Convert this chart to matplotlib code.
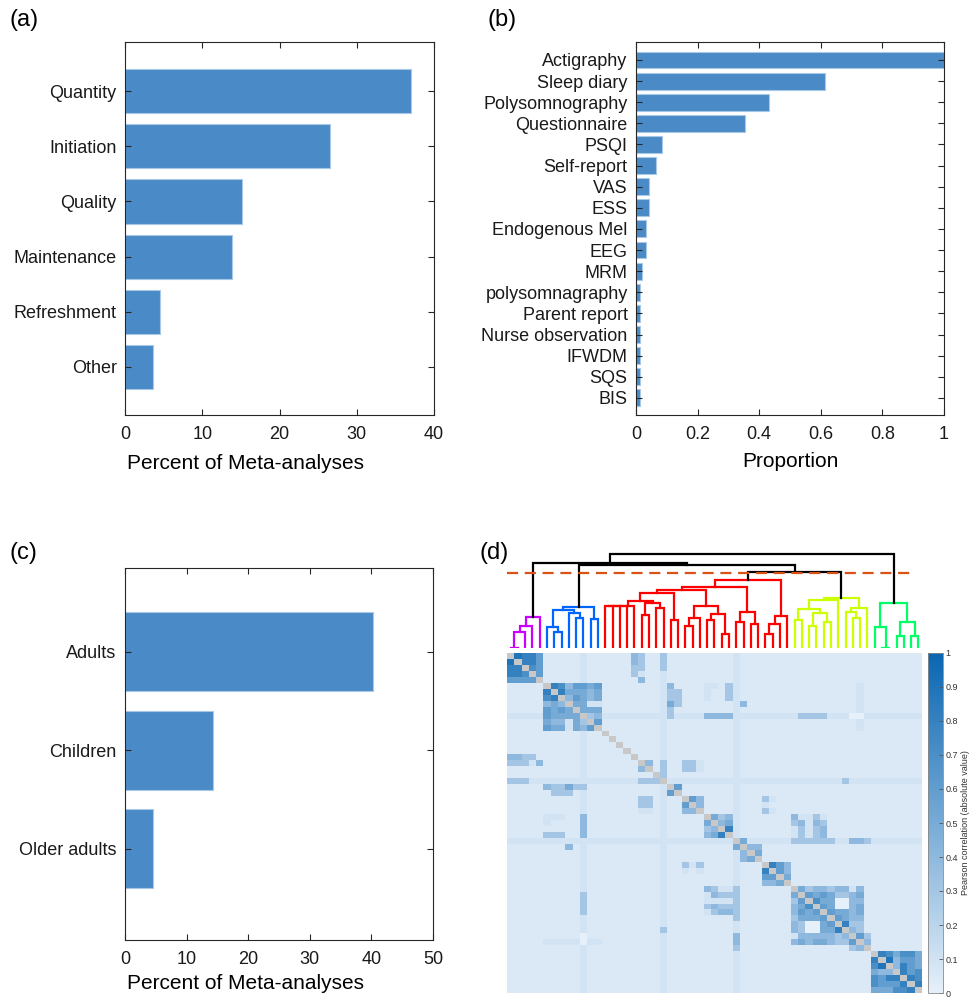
import numpy as np
import matplotlib
matplotlib.use('Agg')
import matplotlib.pyplot as plt
from matplotlib.colors import LinearSegmentedColormap

plt.rcParams['font.family'] = ['Liberation Sans', 'DejaVu Sans']

# (a) sleep outcome measured
outcome_labels = ['Quantity', 'Initiation', 'Quality', 'Maintenance', 'Refreshment', 'Other']
outcome_pct = [37.0, 26.6, 15.2, 13.8, 4.5, 3.6]

# (b) measurement method
method_labels = ['Actigraphy', 'Sleep diary', 'Polysomnography', 'Questionnaire', 'PSQI',
                 'Self-report', 'VAS', 'ESS', 'Endogenous Mel', 'EEG', 'MRM',
                 'polysomnagraphy', 'Parent report', 'Nurse observation', 'IFWDM', 'SQS', 'BIS']
method_prop = [1.0, 0.613, 0.431, 0.355, 0.086, 0.064, 0.043, 0.043, 0.032, 0.032, 0.021,
               0.012, 0.012, 0.012, 0.012, 0.012, 0.012]

# (c) population
pop_labels = ['Adults', 'Children', 'Older adults']
pop_pct = [40.2, 14.3, 4.5]

# (d) |Pearson r| between the 57 meta-analyses, in dendrogram order.
# Each digit indexes level_values, x marks the diagonal; spaces only separate leaf groups.
level_values = [0.0, 0.05, 0.09, 0.3, 0.4, 0.5, 0.6, 0.7, 0.8, 0.9]
corr_rows = [
    "x9886 11111211 11114 3113 11 111 1111 2111 1111 111111 11111 1111111",
    "9x886 11111211 11114 3113 11 111 1111 2111 1111 111111 11111 1111111",
    "88x76 11111211 11113 3113 11 111 1111 2111 1111 111111 11111 1111111",
    "887x6 11111211 11113 2112 11 111 1111 2111 1111 111111 11111 1111111",
    "6666x 11111211 11111 4112 11 111 1111 2111 1111 111111 11111 1111111",
    "11111 x8746656 11111 1112 41 111 2213 2111 1111 111111 11121 1111111",
    "11111 8x855545 11111 1112 33 111 2113 2111 1111 111111 11121 1111111",
    "11111 78x46545 11111 1112 33 111 2113 2111 1111 111111 11121 1111111",
    "11111 454x5522 11111 1112 53 111 1111 2411 1111 111111 11121 1111111",
    "11111 6565x555 11111 1112 31 111 1111 2111 1111 111111 11121 1111111",
    "22222 65555x34 22222 2222 32 222 4444 2222 2222 233332 22002 2222222",
    "11111 544253x6 11111 1112 11 111 1111 2111 1111 111111 11121 1111111",
    "11111 6552546x 11111 1112 11 111 1111 2111 1111 111111 11121 1111111",
    "11111 11111211 x1111 1112 11 111 1111 2111 1111 111111 11111 1111111",
    "11111 11111211 1x111 1112 11 111 1111 2111 1111 111111 11111 1111111",
    "11111 11111211 11x11 1112 11 111 1111 2111 1111 111111 11111 1111111",
    "11111 11111211 111x1 1112 11 111 1111 2111 1111 111111 11111 1111111",
    "44331 11111211 1111x 1112 11 111 1111 2111 1111 111111 11111 1111111",
    "33324 11111211 11111 x413 11 332 1111 2111 1111 111111 11111 1111111",
    "11111 11111211 11111 4x13 11 332 1111 2111 1111 111111 11111 1111111",
    "11111 11111211 11111 11x3 11 111 1111 2111 1111 111111 11111 1111111",
    "33322 22222222 22222 333x 22 222 2222 2222 2222 222222 23222 2222222",
    "11111 43353311 11111 1112 x6 111 1111 2111 1111 111111 11111 1111111",
    "11111 13331211 11111 1112 6x 111 1111 2111 1111 111111 11111 1111111",
    "11111 11111211 11111 3312 11 x64 1111 2111 3211 111111 11111 1111111",
    "11111 11111211 11111 3312 11 6x4 1111 2111 2111 111111 11111 1111111",
    "11111 11111211 11111 2212 11 44x 1111 2111 3211 111111 11111 1111111",
    "11111 22211411 11111 1112 11 111 x534 2111 1111 422321 11111 1111111",
    "11111 21111411 11111 1112 11 111 5x45 2111 1111 342431 11111 1111111",
    "11111 11111411 11111 1112 11 111 34x8 2111 1111 232341 11111 1111111",
    "11111 33311411 11111 1112 11 111 458x 2111 1111 232341 11111 1111111",
    "22222 22222222 22222 2222 22 222 2222 x522 2222 333333 22443 2222222",
    "11111 11141211 11111 1112 11 111 1111 5x44 1111 111111 11111 1111111",
    "11111 11111211 11111 1112 11 111 1111 24x5 1111 111111 11111 1111111",
    "11111 11111211 11111 1112 11 111 1111 245x 1111 111111 11111 1111111",
    "11111 11111211 11111 1112 11 323 1111 2111 x864 111111 11111 1111111",
    "11111 11111211 11111 1112 11 212 1111 2111 8x64 111111 11111 1111111",
    "11111 11111211 11111 1112 11 111 1111 2111 66x5 111111 11111 1111111",
    "11111 11111211 11111 1112 11 111 1111 2111 445x 111111 11111 1111111",
    "11111 11111211 11111 1112 11 111 4322 3111 1111 x53443 44241 1111111",
    "11111 11111311 11111 1112 11 111 2433 3111 1111 5x6565 33451 1111111",
    "11111 11111311 11111 1112 11 111 2222 3111 1111 36x755 00441 1111111",
    "11111 11111311 11111 1112 11 111 3433 3111 1111 457x65 00451 1111111",
    "11111 11111311 11111 1112 11 111 2344 3111 1111 4656x6 55451 1111111",
    "11111 11111211 11111 1112 11 111 1111 3111 1111 35556x 65441 1111111",
    "11111 11111211 11111 1112 11 111 1111 2111 1111 430056 x8331 1111111",
    "11111 11111211 11111 1113 11 111 1111 2111 1111 430055 8x431 1111111",
    "11111 11111011 11111 1112 11 111 1111 4111 1111 244444 34x63 1111111",
    "11111 22222022 11111 1112 11 111 1111 4111 1111 454554 336x4 1111111",
    "11111 11111211 11111 1112 11 111 1111 3111 1111 111111 1134x 1111111",
    "11111 11111211 11111 1112 11 111 1111 2111 1111 111111 11111 x875775",
    "11111 11111211 11111 1112 11 111 1111 2111 1111 111111 11111 8x94665",
    "11111 11111211 11111 1112 11 111 1111 2111 1111 111111 11111 79x4865",
    "11111 11111211 11111 1112 11 111 1111 2111 1111 111111 11111 544x867",
    "11111 11111211 11111 1112 11 111 1111 2111 1111 111111 11111 7688x87",
    "11111 11111211 11111 1112 11 111 1111 2111 1111 111111 11111 76668x8",
    "11111 11111211 11111 1112 11 111 1111 2111 1111 111111 11111 555778x",
]

# dendrogram: (left, right, linkage height), leaves numbered in display order
purple = ((((1, 2, 0), 3, 16), 4, 22), 5, 31)
blue = (((6, (7, 8, 16), 21), (9, (10, 11, 30), 35), 38), (12, 13, 29), 41)
red = (((((((((14, 15, 42), 16, 42), 17, 42), 18, 42),
            ((19, 20, 33), (21, 22, 40), 45), 47), (23, 24, 28), 55),
          (((25, 26, 22), 27, 30), ((28, 29, 28), (30, 31, 14), 34), 42), 58),
         ((32, 33, 26), (34, 35, 24), 36), 61),
       (((36, 37, 14), 38, 24), 39, 32), 68)
yellow = (((((40, 41, 28), ((42, 43, 22), (44, 45, 26), 35), 39), 46, 48),
           ((47, (48, 49, 30), 36), 50, 40), 50))
green = ((51, (52, 53, 0), 21), ((54, 55, 12), (56, 57, 12), 26), 45)
tree = ((purple, (blue, (red, yellow, 76), 83), 85), green, 94)
cutoff = 75

cluster_color = {id(purple): '#cc00ff', id(blue): '#0066ff', id(red): '#ff0000',
                 id(yellow): '#ccff00', id(green): '#00ff66'}

W, H = 970, 997
fig = plt.figure(figsize=(W / 100, H / 100), dpi=100)


def box(left, top, right, bottom):
    return [left / W, 1 - bottom / H, (right - left) / W, (bottom - top) / H]


AX_COL = '#262626'
BAR = '#4a8ac6'
EDGE = '#a8c8e8'


def bar_panel(rect, labels, values, xlim, xticks, xticklabels, ylim):
    ax = fig.add_axes(rect)
    pos = np.arange(len(values), 0, -1)
    ax.barh(pos, values, height=0.8, color=BAR, edgecolor=EDGE, linewidth=0.8)
    ax.set_yticks(pos, labels, fontsize=13)
    ax.set_xticks(xticks, xticklabels, fontsize=13)
    ax.set_xlim(*xlim)
    ax.set_ylim(*ylim)
    ax.tick_params(direction='in', length=4, width=0.8, colors=AX_COL,
                   top=True, right=True, labelcolor='#1a1a1a')
    ax.tick_params(axis='x', pad=8)
    ax.tick_params(axis='y', pad=6)
    for s in ax.spines.values():
        s.set_color(AX_COL)
        s.set_linewidth(0.8)
    return ax


ax_a = bar_panel(box(125, 42, 434, 415), outcome_labels, outcome_pct, (0, 40),
                 [0, 10, 20, 30, 40], ['0', '10', '20', '30', '40'], (0.13, 6.89))
ax_a.set_xlabel('Percent of Meta-analyses', fontsize=15)
ax_a.xaxis.set_label_coords(0.39, -0.105)

ax_b = bar_panel(box(636, 42, 944, 415), method_labels, method_prop, (0, 1),
                 [0, 0.2, 0.4, 0.6, 0.8, 1], ['0', '0.2', '0.4', '0.6', '0.8', '1'],
                 (0.19, 17.85))
ax_b.set_xlabel('Proportion', fontsize=15)
ax_b.xaxis.set_label_coords(0.5, -0.1)

ax_c = bar_panel(box(125, 568, 433, 940), pop_labels, pop_pct, (0, 50),
                 [0, 10, 20, 30, 40, 50], ['0', '10', '20', '30', '40', '50'], (0.076, 3.85))
ax_c.set_xlabel('Percent of Meta-analyses', fontsize=15)
ax_c.xaxis.set_label_coords(0.39, -0.092)

# (d) dendrogram
n = len(corr_rows)
ax_t = fig.add_axes(box(507, 548, 922, 648))
ax_t.set_xlim(0.5, n + 0.5)
ax_t.set_ylim(0, 100)
ax_t.axis('off')


def draw(node, col='k'):
    if isinstance(node, int):
        return float(node), 0.0
    col = cluster_color.get(id(node), col)
    left, right, h = node
    xl, hl = draw(left, col)
    xr, hr = draw(right, col)
    ax_t.plot([xl, xl, xr, xr], [hl, h, h, hr], color=col, lw=1.6,
              solid_joinstyle='miter', zorder=2 if col != 'k' else 3)
    return (xl + xr) / 2, h


draw(tree)
ax_t.plot([0.5, 56.3], [cutoff, cutoff], color='#d95319', lw=1.6,
          dashes=(5, 3), zorder=4)

# (d) correlation matrix
corr = np.array([[np.nan if c == 'x' else level_values[int(c)] for c in ''.join(r.split())]
                 for r in corr_rows])
cmap = LinearSegmentedColormap.from_list('pearson', ['#e6f0fa', '#0a66b2'])
cmap.set_bad('#c8c8c8')
ax_h = fig.add_axes(box(507, 653, 922, 993))
im = ax_h.imshow(np.ma.masked_invalid(corr), cmap=cmap, vmin=0, vmax=1,
                 aspect='auto', interpolation='nearest',
                 extent=(0.5, n + 0.5, n + 0.5, 0.5))
ax_h.axis('off')

cax = fig.add_axes(box(928, 653, 943, 993))
cb = fig.colorbar(im, cax=cax, ticks=np.arange(0, 1.01, 0.1))
cb.ax.set_yticklabels(['0', '0.1', '0.2', '0.3', '0.4', '0.5', '0.6', '0.7', '0.8', '0.9', '1'])
cb.ax.tick_params(labelsize=6.5, length=3, width=0.6, direction='in', colors='#555555',
                  labelcolor='#333333', pad=2)
cb.outline.set_edgecolor('#888888')
cb.outline.set_linewidth(0.6)
cb.set_label('Pearson correlation (absolute value)', fontsize=6.5, color='#333333', labelpad=2)

for label, x, y in [('(a)', 10, 20), ('(b)', 488, 20), ('(c)', 10, 553), ('(d)', 480, 553)]:
    fig.text(x / W, 1 - y / H, label, fontsize=17, ha='left', va='center')

fig.savefig('out.png', dpi=100)
